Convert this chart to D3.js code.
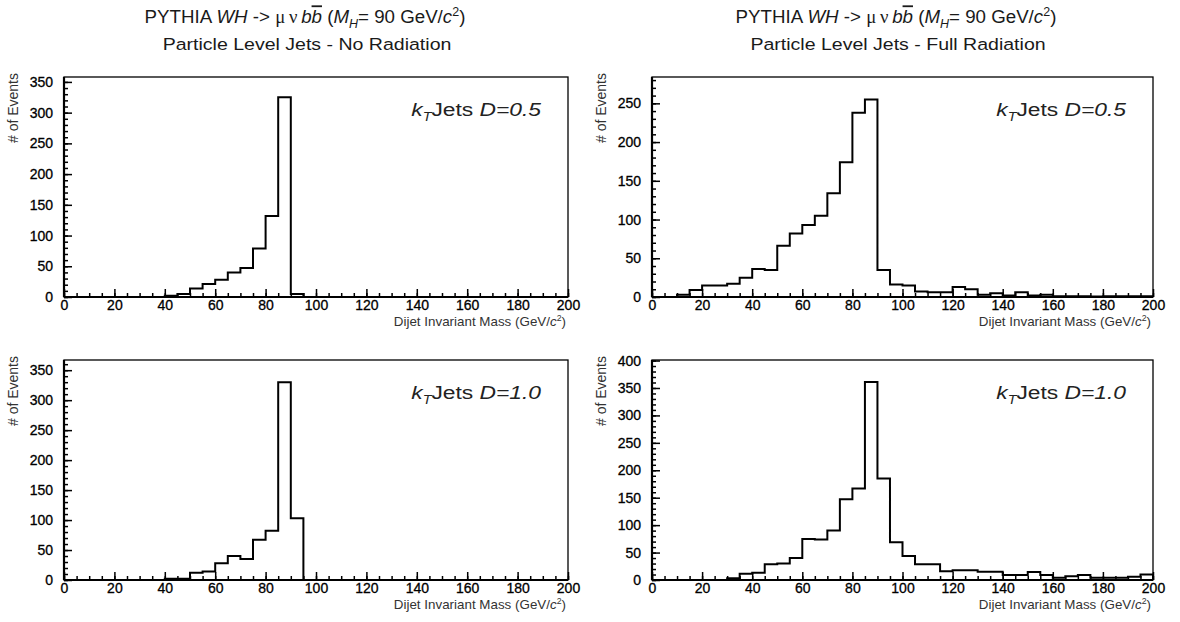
<!DOCTYPE html>
<html>
<head>
<meta charset="utf-8">
<script src="https://cdn.jsdelivr.net/npm/d3@7"></script>
<style>
  body { margin: 0; background: #fff; }
  svg { display: block; font-family: "Liberation Sans", Arial, sans-serif; }
  .tick text { font-size: 14px; fill: #000; stroke: #000; stroke-width: 0.3px; }
</style>
</head>
<body>
<svg id="viz" width="1180" height="622"></svg>
<script>
(function () {
  'use strict';

  // 5 GeV bins from 0 to 200 GeV/c^2
  const binEdges = d3.range(0, 200, 5);

  // events per bin
  const noRadD05 = [0, 0, 0, 0, 0, 0, 0, 0, 2, 5, 14, 21, 28, 40, 47, 79, 132, 325, 5, 0,
    0, 0, 0, 0, 0, 0, 0, 0, 0, 0, 0, 0, 0, 0, 0, 0, 0, 0, 0, 0];
  const fullRadD05 = [0, 0, 3, 9, 15, 15, 17, 25, 36, 35, 66, 82, 93, 105, 134, 174, 238, 255, 35, 16,
    15, 7, 6, 6, 13, 10, 3, 5, 2, 6, 2, 3, 1, 1, 1, 0.5, 1, 1, 1, 1];
  const noRadD10 = [0, 0, 0, 0, 0, 0, 0, 0, 2, 2, 12, 14, 28, 40, 35, 67, 82, 330, 103, 0,
    0, 0, 0, 0, 0, 0, 0, 0, 0, 0, 0, 0, 0, 0, 0, 0, 0, 0, 0, 0];
  const fullRadD10 = [0, 0, 0, 0, 0, 0, 3, 11.5, 13, 28.5, 30, 40, 74.6, 74, 90, 147, 167, 361, 185, 69,
    43.6, 28.5, 28.5, 16, 17.6, 17.6, 15, 15, 9, 9, 14.5, 9, 4, 7, 9, 4, 4, 4, 6, 10];

  const xTicks = [0, 20, 40, 60, 80, 100, 120, 140, 160, 180, 200];
  const yMaxes = [358, 284, 367, 401];
  const yTickStep = 50;
  const subTitles = ['Particle Level Jets - No Radiation', 'Particle Level Jets - Full Radiation'];
  const jetD = ['D=0.5', 'D=0.5', 'D=1.0', 'D=1.0'];

  const svg = d3.select('#viz');

  const cols = [{ left: 64, right: 568, center: 305 }, { left: 652, right: 1153, center: 896 }];
  const rows = [{ top: 77, bottom: 297 }, { top: 360, bottom: 580 }];

  const panels = [
    { values: noRadD05, col: 0, row: 0 },
    { values: fullRadD05, col: 1, row: 0 },
    { values: noRadD10, col: 0, row: 1 },
    { values: fullRadD10, col: 1, row: 1 }
  ];

  // the original fonts run wider than Liberation Sans, so stretch a bit
  function wideText(parent, x, y, sx) {
    return parent.append('text')
      .attr('transform', `translate(${x},${y}) scale(${sx},1)`);
  }

  // titles over each column
  cols.forEach((c, i) => {
    const t = wideText(svg, c.center, 23, 1.04)
      .attr('text-anchor', 'middle')
      .style('font-size', '18px')
      .style('fill', '#1a1a1a');
    t.append('tspan').text('PYTHIA ');
    t.append('tspan').style('font-style', 'italic').text('WH');
    t.append('tspan').text(' ->  ');
    t.append('tspan').style('font-family', '"Liberation Serif", serif').text('\u03bc\u2009\u03bd\u2009');
    t.append('tspan').style('font-style', 'italic').text('b');
    t.append('tspan').style('font-style', 'italic').style('text-decoration', 'overline').text('b');
    t.append('tspan').text(' (');
    t.append('tspan').style('font-style', 'italic').text('M');
    t.append('tspan').style('font-style', 'italic').style('font-size', '12px').attr('dy', 5).text('H');
    t.append('tspan').attr('dy', -5).text('= 90 GeV/');
    t.append('tspan').style('font-style', 'italic').text('c');
    t.append('tspan').style('font-size', '12px').attr('dy', -7).text('2');
    t.append('tspan').attr('dy', 7).text(')');

    wideText(svg, c.center + 2, 50, 1.15)
      .attr('text-anchor', 'middle')
      .style('font-size', '17px')
      .style('fill', '#1a1a1a')
      .text(subTitles[i]);
  });

  panels.forEach((p, i) => {
    const c = cols[p.col];
    const r = rows[p.row];
    const w = c.right - c.left;
    const h = r.bottom - r.top;

    const g = svg.append('g').attr('transform', `translate(${c.left},${r.top})`);

    const x = d3.scaleLinear().domain([0, 200]).range([0, w]);
    const y = d3.scaleLinear().domain([0, yMaxes[i]]).range([h, 0]);

    // minor ticks first, majors on top
    g.append('g')
      .attr('transform', `translate(0,${h})`)
      .call(d3.axisBottom(x).tickValues(d3.range(0, 201, 5)).tickSize(-4).tickSizeOuter(0).tickFormat(''))
      .call(a => a.select('.domain').remove());
    g.append('g')
      .attr('transform', `translate(0,${h})`)
      .call(d3.axisBottom(x).tickValues(xTicks).tickSize(-8).tickSizeOuter(0).tickPadding(3))
      .call(a => a.select('.domain').remove());

    g.append('g')
      .call(d3.axisLeft(y).tickValues(d3.range(0, yMaxes[i], 10)).tickSize(-4).tickSizeOuter(0).tickFormat(''))
      .call(a => a.select('.domain').remove());
    g.append('g')
      .call(d3.axisLeft(y).tickValues(d3.range(0, yMaxes[i], yTickStep)).tickSize(-8).tickSizeOuter(0).tickPadding(11))
      .call(a => a.select('.domain').remove());

    g.selectAll('.tick line').attr('stroke', '#000').attr('stroke-width', 1.5);

    // histogram outline
    const pts = [[0, 0]].concat(binEdges.map((e, k) => [e, p.values[k]]), [[200, p.values[p.values.length - 1]], [200, 0]]);
    const line = d3.line()
      .x(d => x(d[0]))
      .y(d => y(d[1]))
      .curve(d3.curveStepAfter);
    g.append('path')
      .attr('d', line(pts))
      .attr('fill', 'none')
      .attr('stroke', '#000')
      .attr('stroke-width', 2);

    // frame
    g.append('rect')
      .attr('x', 0).attr('y', 0)
      .attr('width', w).attr('height', h)
      .attr('fill', 'none')
      .attr('stroke', '#000')
      .attr('stroke-width', 1.3);
    g.append('line').attr('x1', 0).attr('x2', w).attr('y1', h).attr('y2', h)
      .attr('stroke', '#000').attr('stroke-width', 2.2);
    g.append('line').attr('x1', 0).attr('x2', 0).attr('y1', 0).attr('y2', h)
      .attr('stroke', '#000').attr('stroke-width', 2.2);

    // axis titles
    const xl = wideText(g, w - 2, h + 29, 1.03)
      .attr('text-anchor', 'end')
      .style('font-size', '13px')
      .style('fill', '#333');
    xl.append('tspan').text('Dijet Invariant Mass (GeV/');
    xl.append('tspan').style('font-style', 'italic').text('c');
    xl.append('tspan').style('font-size', '8.5px').attr('dy', -5).text('2');
    xl.append('tspan').attr('dy', 5).text(')');

    g.append('text')
      .attr('transform', `translate(${-46},${-4}) rotate(-90)`)
      .attr('text-anchor', 'end')
      .style('font-size', '14px')
      .style('fill', '#333')
      .text('# of Events');

    // jet algorithm label
    const jl = wideText(g, w - 27, 39, 1.2)
      .attr('text-anchor', 'end')
      .style('font-size', '19px')
      .style('fill', '#222');
    jl.append('tspan').style('font-style', 'italic').text('k');
    jl.append('tspan').style('font-style', 'italic').style('font-size', '12px').attr('dy', 5).text('T');
    jl.append('tspan').attr('dy', -5).text('Jets ');
    jl.append('tspan').style('font-style', 'italic').text(jetD[i]);
  });
}());
</script>
</body>
</html>
